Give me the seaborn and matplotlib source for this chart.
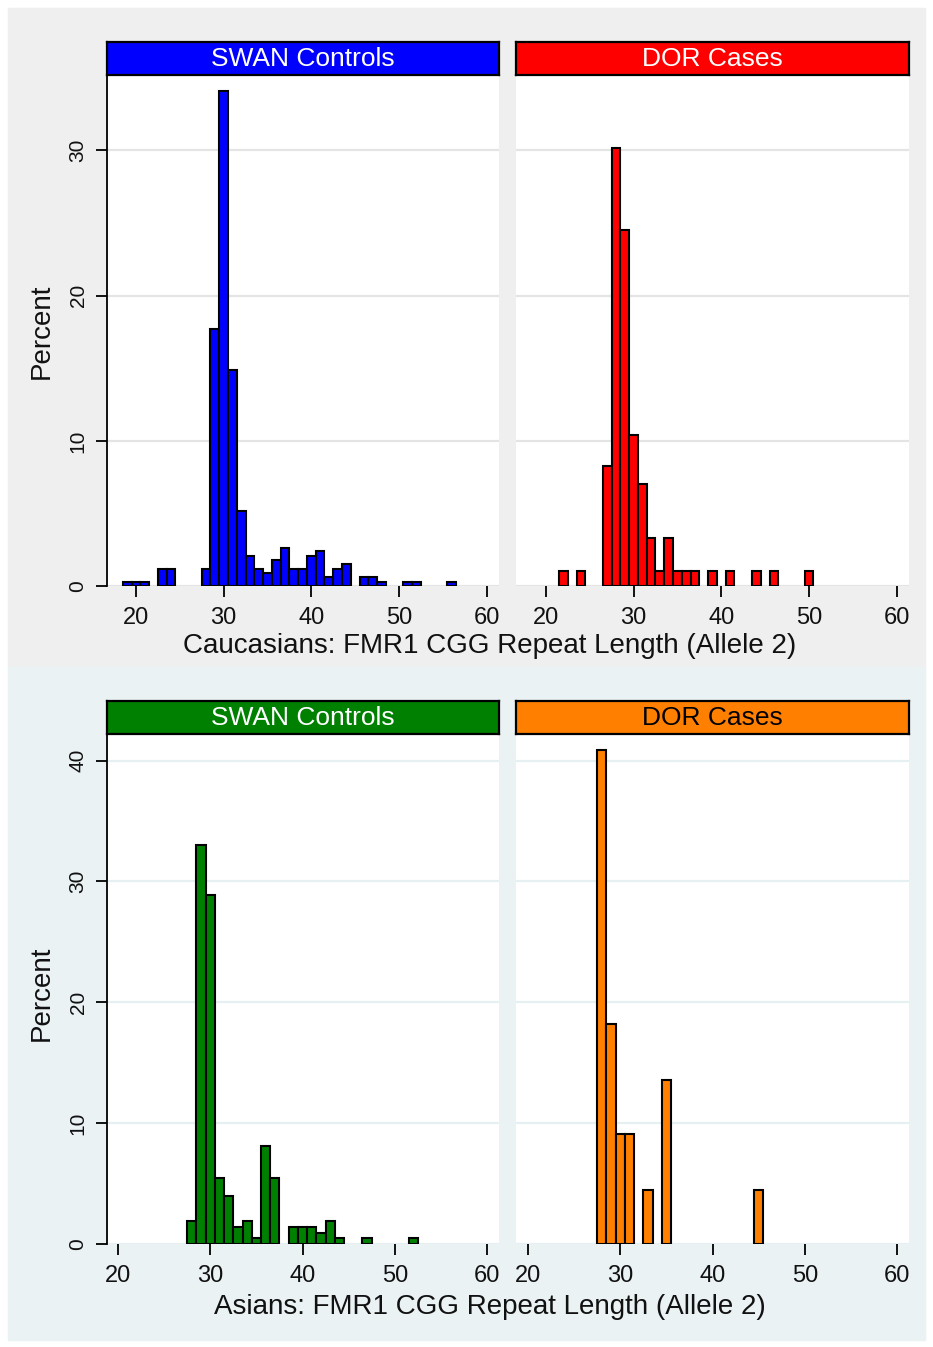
import matplotlib
matplotlib.use("Agg")
import matplotlib.pyplot as plt
from matplotlib.patches import Rectangle
import seaborn as sns

# ---- data (CGG repeat length -> percent) ----
cauc_ctrl_len = [19, 20, 21, 23, 24, 28, 29, 30, 31, 32, 33, 34, 35, 36, 37, 38, 39, 40,
                 41, 42, 43, 44, 46, 47, 48, 51, 52, 56]
cauc_ctrl_pct = [0.3, 0.3, 0.3, 1.2, 1.2, 1.2, 17.7, 34.1, 14.9, 5.2, 2.1, 1.2, 0.9, 1.8,
                 2.6, 1.2, 1.2, 2.1, 2.4, 0.6, 1.2, 1.5, 0.6, 0.6, 0.3, 0.3, 0.3, 0.3]

cauc_case_len = [22, 24, 27, 28, 29, 30, 31, 32, 33, 34, 35, 36, 37, 39, 41, 44, 46, 50]
cauc_case_pct = [1.0, 1.0, 8.3, 30.2, 24.5, 10.4, 7.0, 3.3, 1.0, 3.3, 1.0, 1.0, 1.0,
                 1.0, 1.0, 1.0, 1.0, 1.0]

asian_ctrl_len = [28, 29, 30, 31, 32, 33, 34, 35, 36, 37, 39, 40, 41, 42, 43, 44, 47, 52]
asian_ctrl_pct = [1.9, 33.0, 28.9, 5.5, 4.0, 1.4, 1.9, 0.5, 8.1, 5.5, 1.4, 1.4, 1.4,
                  0.9, 1.9, 0.5, 0.5, 0.5]

asian_case_len = [28, 29, 30, 31, 33, 35, 45]
asian_case_pct = [40.9, 18.2, 9.1, 9.1, 4.5, 13.6, 4.5]

panel_titles = ["SWAN Controls", "DOR Cases"]
x_ticks = [20, 30, 40, 50, 60]
y_ticks_top = [0, 10, 20, 30]
y_ticks_bottom = [0, 10, 20, 30, 40]
xlabel_top = "Caucasians: FMR1 CGG Repeat Length (Allele 2)"
xlabel_bottom = "Asians: FMR1 CGG Repeat Length (Allele 2)"
ylabel = "Percent"

# ---- style ----
sns.set_style("white")
plt.rcParams["font.family"] = ["Liberation Sans", "DejaVu Sans"]

W, H = 933, 1347
fig = plt.figure(figsize=(W / 100, H / 100), dpi=100)
fig.patch.set_facecolor("white")

def fx(px):
    return px / W

def fy(py):
    return 1 - py / H

# region backgrounds
fig.patches.append(Rectangle((fx(8), fy(667)), fx(925) - fx(8), fy(8) - fy(667),
                             transform=fig.transFigure, color="#efefef", zorder=-10))
fig.patches.append(Rectangle((fx(8), fy(1340)), fx(925) - fx(8), fy(667) - fy(1340),
                             transform=fig.transFigure, color="#eaf2f3", zorder=-10))

panels = [
    (cauc_ctrl_len, cauc_ctrl_pct, "#0000ff", 107, 499, 75, 586, 42, (16.7, 61.4), (0, 35.2), y_ticks_top, "#e4e4e4", "white", True, 0),
    (cauc_case_len, cauc_case_pct, "#ff0000", 516, 909, 75, 586, 42, (16.6, 61.4), (0, 35.2), y_ticks_top, "#e4e4e4", "white", False, 1),
    (asian_ctrl_len, asian_ctrl_pct, "#008000", 107, 499, 734, 1244, 701, (18.8, 61.3), (0, 42.2), y_ticks_bottom, "#e6eff1", "white", True, 0),
    (asian_case_len, asian_case_pct, "#ff8000", 516, 909, 734, 1244, 701, (18.7, 61.3), (0, 42.2), y_ticks_bottom, "#e6eff1", "black", False, 1),
]

for (lens, pcts, col, x0, x1, yt, yb, st, xlim, ylim, yticks, gcol, tcol, showy, ti) in panels:
    ax = fig.add_axes([fx(x0), fy(yb), fx(x1) - fx(x0), fy(yt) - fy(yb)])
    ax.set_facecolor("white")
    sns.histplot(x=lens, weights=pcts, discrete=True, ax=ax, color=col,
                 edgecolor="black", linewidth=1.5, alpha=1.0, zorder=3)
    # hide empty bins (they would draw a black line along the baseline)
    for p in ax.patches:
        if p.get_height() <= 0:
            p.set_visible(False)
    ax.set_xlim(*xlim)
    ax.set_ylim(*ylim)
    ax.set_xticks(x_ticks)
    ax.set_yticks(yticks)
    ax.set_axisbelow(True)
    ax.yaxis.grid(True, color=gcol, linewidth=1.6)
    ax.xaxis.grid(False)
    ax.set_xlabel("")
    ax.set_ylabel("")
    for s in ["top", "right", "bottom"]:
        ax.spines[s].set_visible(False)
    ax.tick_params(axis="x", bottom=True, length=8, width=1.3, color="black",
                   labelsize=17, pad=7, labelcolor="#111111")
    if showy:
        ax.spines["left"].set_visible(True)
        ax.spines["left"].set_color("black")
        ax.spines["left"].set_linewidth(1.3)
        ax.tick_params(axis="y", left=True, length=8, width=1.3, color="black",
                       labelsize=15, pad=6, labelcolor="#111111")
        for lab in ax.get_yticklabels():
            lab.set_rotation(90)
            lab.set_va("center")
    else:
        ax.spines["left"].set_visible(False)
        ax.tick_params(axis="y", left=False, labelleft=False)

    # strip header
    sax = fig.add_axes([fx(x0), fy(yt), fx(x1) - fx(x0), fy(st) - fy(yt)])
    sax.set_facecolor(col)
    sax.set_xticks([])
    sax.set_yticks([])
    for s in sax.spines.values():
        s.set_color("black")
        s.set_linewidth(1.6)
    sax.text(0.5, 0.5, panel_titles[ti], ha="center", va="center",
             fontsize=19, color=tcol, transform=sax.transAxes)

fig.text(fx(490), fy(646), xlabel_top, ha="center", va="center", fontsize=20, color="#111111")
fig.text(fx(490), fy(1307), xlabel_bottom, ha="center", va="center", fontsize=20, color="#111111")
fig.text(fx(42), fy(331), ylabel, ha="center", va="center", rotation=90, fontsize=20, color="#111111")
fig.text(fx(42), fy(993), ylabel, ha="center", va="center", rotation=90, fontsize=20, color="#111111")

fig.savefig("out.png", dpi=100, facecolor=fig.get_facecolor())
